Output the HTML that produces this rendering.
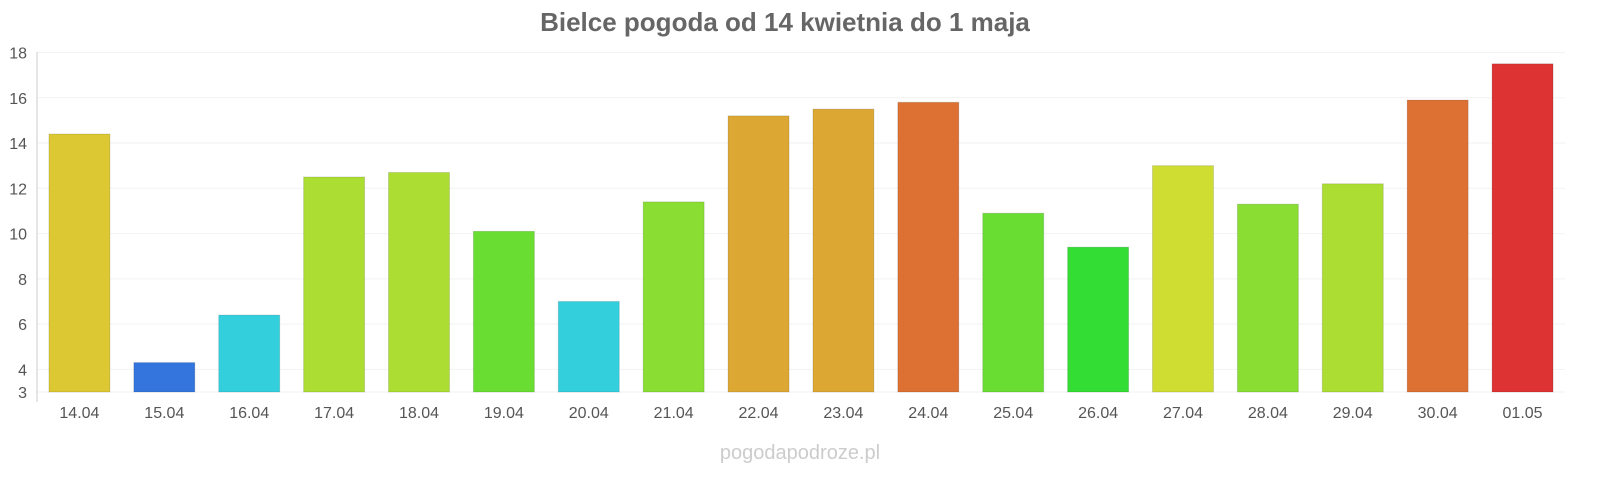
<!DOCTYPE html>
<html><head><meta charset="utf-8"><style>
body{margin:0;background:#fff;font-family:"Liberation Sans",sans-serif}
svg{display:block}
</style></head><body>
<svg id="chart" width="1600" height="480">
<text x="785" y="31" text-anchor="middle" font-size="26" font-weight="bold" fill="#666">Bielce pogoda od 14 kwietnia do 1 maja</text>
<g id="grid"></g><g id="bars"></g><g id="xlabels"></g><g id="ylabels"></g>
<line x1="37" y1="52" x2="37" y2="402" stroke="#ccc"/>
<text x="800" y="459" text-anchor="middle" font-size="20" fill="#ccc">pogodapodroze.pl</text>
</svg>
<script>
const categories=["14.04","15.04","16.04","17.04","18.04","19.04","20.04","21.04","22.04","23.04","24.04","25.04","26.04","27.04","28.04","29.04","30.04","01.05"];
const temps=[14.4,4.3,6.4,12.5,12.7,10.1,7.0,11.4,15.2,15.5,15.8,10.9,9.4,13.0,11.3,12.2,15.9,17.5];
const colors=["#dcc832","#3375dd","#33cfdd","#acdd33","#acdd33","#6add33","#33cfdd","#8add33","#dca833","#dca833","#dd7033","#6add33","#33dd33","#cfdd33","#8add33","#acdd33","#dd7033","#dd3333"];
const yTicks=[3,4,6,8,10,12,14,16,18];
const NS="http://www.w3.org/2000/svg";
const x0=37,x1=1565,yMin=3,yMax=18,py0=392,py1=52.5;
const band=(x1-x0)/categories.length;
const y=v=>py0-(v-yMin)/(yMax-yMin)*(py0-py1);
const xc=i=>x0+band*(i+0.5);
function mk(t,a,p){const e=document.createElementNS(NS,t);for(const k in a)e.setAttribute(k,a[k]);p.appendChild(e);return e;}
const g=document.getElementById('grid'),b=document.getElementById('bars'),xl=document.getElementById('xlabels'),yl=document.getElementById('ylabels');
yTicks.forEach(t=>{
 const l=mk('line',{x1:x0,x2:x1,y1:y(t),y2:y(t),stroke:'#f2f2f2'},g);
 
 
 const tx=mk('text',{x:27,y:y(t)+6,'text-anchor':'end','font-size':16,fill:'#555'},yl);
 tx.textContent=t;
 
 
});
categories.forEach((c,i)=>{
 const w=61,top=y(temps[i]);
 const r=mk('rect',{x:xc(i)-w/2,y:top,width:w,height:py0-top,fill:colors[i],stroke:'rgba(0,0,0,0.12)','stroke-width':1},b);
 
 
 const t=mk('text',{x:xc(i),y:418,'text-anchor':'middle','font-size':16,fill:'#555'},xl);
 t.textContent=c;
 
 
});
</script>
</body></html>
